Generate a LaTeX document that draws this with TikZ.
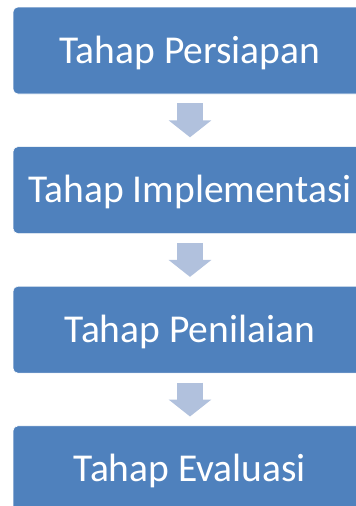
\documentclass[tikz,border=0pt]{standalone}
\usepackage{fontspec}
\setmainfont{Carlito}
\usetikzlibrary{arrows.meta,positioning}
\definecolor{biruTahap}{HTML}{4F81BD}
\definecolor{biruPanah}{HTML}{B1C1DD}

\begin{document}
\begin{tikzpicture}[x=1pt,y=1pt,node distance=52pt,
    tahap/.style={fill=biruTahap,draw=white,line width=0.6pt,rounded corners=5pt,
      minimum width=354pt,minimum height=87pt,inner sep=0pt,
      text=white,text height=25pt,text depth=0pt,
      font=\fontsize{39.5}{42}\selectfont},
    panah/.style={biruPanah,line width=26pt,shorten <=9pt,shorten >=9pt,
      -{Triangle[length=17pt,width=42pt]}}]
  \useasboundingbox (0,0) rectangle (356,-506);
  \clip (0,0) rectangle (356,-506);
  \node[tahap] (persiapan) at (190,-50.5) {Tahap Persiapan};
  \node[tahap,below=of persiapan] (implementasi) {Tahap Implementasi};
  \node[tahap,below=of implementasi] (penilaian) {Tahap Penilaian};
  \node[tahap,below=of penilaian] (evaluasi) {Tahap Evaluasi};
  \draw[panah] (persiapan) -- (implementasi);
  \draw[panah] (implementasi) -- (penilaian);
  \draw[panah] (penilaian) -- (evaluasi);
\end{tikzpicture}
\end{document}
